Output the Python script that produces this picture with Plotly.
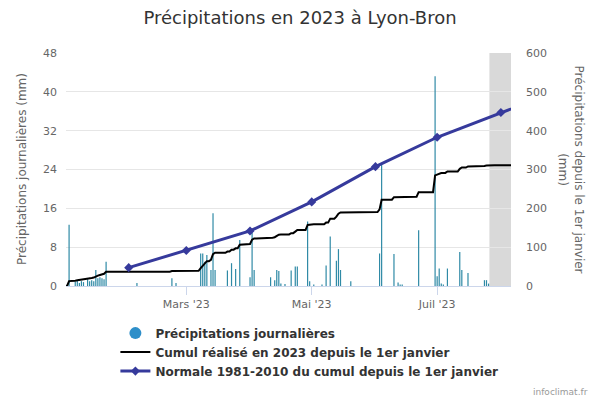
import pandas as pd
import plotly.graph_objects as go

# --- Data ---------------------------------------------------------------
rain_dates = [
    "2023-01-03", "2023-01-06", "2023-01-07", "2023-01-08", "2023-01-09", "2023-01-10",
    "2023-01-12", "2023-01-13", "2023-01-14", "2023-01-15", "2023-01-16", "2023-01-17",
    "2023-01-18", "2023-01-19", "2023-01-20", "2023-01-21",
    "2023-02-05", "2023-02-22", "2023-02-24",
    "2023-03-08", "2023-03-09", "2023-03-10", "2023-03-11", "2023-03-13", "2023-03-14",
    "2023-03-15", "2023-03-21", "2023-03-23", "2023-03-25", "2023-03-27",
    "2023-04-01", "2023-04-02", "2023-04-03", "2023-04-11", "2023-04-13", "2023-04-14",
    "2023-04-15", "2023-04-16", "2023-04-18", "2023-04-21", "2023-04-23", "2023-04-24",
    "2023-04-29", "2023-04-30",
    "2023-05-02", "2023-05-06", "2023-05-08", "2023-05-10", "2023-05-13", "2023-05-14",
    "2023-05-15", "2023-05-20",
    "2023-06-03", "2023-06-04", "2023-06-10", "2023-06-12", "2023-06-13", "2023-06-14",
    "2023-06-22", "2023-06-30",
    "2023-07-01", "2023-07-02", "2023-07-03", "2023-07-04", "2023-07-06", "2023-07-12",
    "2023-07-13", "2023-07-16", "2023-07-24", "2023-07-25", "2023-07-26",
]
rain_mm = [
    12.6, 0.9, 1.2, 0.6, 1.0, 0.8,
    1.4, 1.0, 1.2, 1.0, 3.3, 1.6,
    1.8, 1.6, 1.4, 5.0,
    0.6, 1.6, 0.6,
    6.7, 6.7, 5.0, 6.4, 3.3, 15.0,
    3.3, 3.2, 4.7, 3.5, 9.5,
    1.8, 11.0, 3.3, 1.8, 1.2, 3.3,
    3.1, 0.5, 0.4, 3.2, 4.0, 4.0,
    13.3, 1.0,
    0.3, 0.3, 4.2, 10.2, 5.2, 7.6,
    3.3, 1.0,
    6.7, 25.0, 6.6, 0.7, 0.3, 0.3,
    11.5, 43.2,
    2.0, 3.6, 0.5, 0.3, 3.6, 7.0,
    3.3, 2.7, 1.2, 1.2, 0.5,
]

normal_dates = ["2023-02-01", "2023-03-01", "2023-04-01", "2023-05-01",
                "2023-06-01", "2023-07-01", "2023-08-01", "2023-09-01"]
normal_cum = [47.2, 91.3, 141.7, 216.6, 307.4, 383.0, 446.7, 508.7]

tick_dates = ["2023-03-01", "2023-05-01", "2023-07-01"]
tick_labels = ["Mars '23", "Mai '23", "Juil '23"]

period_start = "2023-01-01"
period_end = "2023-08-06"
pending_start = "2023-07-26 10:00"
x_range = ["2023-01-01 12:00", "2023-08-05 22:00"]

# cumulative series from daily values
days = pd.date_range(period_start, period_end, freq="D")
daily = pd.Series(0.0, index=days)
for d, v in zip(rain_dates, rain_mm):
    daily[pd.Timestamp(d)] += v
cumul = daily.cumsum()

# thin daily columns drawn as vertical segments from 0 to the value
col_x, col_y = [], []
for d, v in zip(pd.to_datetime(rain_dates), rain_mm):
    col_x += [d, d, None]
    col_y += [0, v, None]

FONT = "DejaVu Sans"
BAR_COLOR = "#2f8aa6"
LEG_DOT = "#2e8fc9"
NORM_COLOR = "#363a9c"

fig = go.Figure()

fig.add_trace(go.Scatter(
    x=col_x, y=col_y, mode="lines", line=dict(color=BAR_COLOR, width=1.2),
    showlegend=False, yaxis="y", connectgaps=False,
))
fig.add_trace(go.Scatter(
    x=[None], y=[None], mode="markers", name="Précipitations journalières",
    marker=dict(symbol="circle", size=12, color=LEG_DOT), yaxis="y",
))
fig.add_trace(go.Scatter(
    x=cumul.index, y=cumul.values, mode="lines",
    name="Cumul réalisé en 2023 depuis le 1er janvier",
    line=dict(color="#000000", width=2), yaxis="y2",
))
fig.add_trace(go.Scatter(
    x=pd.to_datetime(normal_dates), y=normal_cum, mode="lines+markers",
    name="Normale 1981-2010 du cumul depuis le 1er janvier",
    line=dict(color=NORM_COLOR, width=3),
    marker=dict(symbol="diamond", size=7, color=NORM_COLOR), yaxis="y2",
))

fig.add_shape(type="rect", xref="x", yref="paper",
              x0=pending_start, x1=x_range[1], y0=0, y1=1,
              fillcolor="#d9d9d9", line=dict(width=0), layer="below")

fig.update_layout(
    width=600, height=400,
    margin=dict(l=66, r=89, t=53, b=114),
    paper_bgcolor="white", plot_bgcolor="white",
    font=dict(family=FONT, color="#666666", size=11),
    title=dict(text="Précipitations en 2023 à Lyon-Bron", x=0.5, xanchor="center",
               y=1 - 18 / 400, yanchor="middle",
               font=dict(family=FONT, size=18, color="#333333")),
    xaxis=dict(type="date", range=x_range, tickvals=tick_dates, ticktext=tick_labels,
               ticks="outside", ticklen=8, tickcolor="#ccd6eb",
               showgrid=False, showline=True, linecolor="#ccd6eb", linewidth=1,
               tickfont=dict(size=11, color="#666666"), zeroline=False),
    yaxis=dict(range=[0, 48], dtick=8, tick0=0, showgrid=True, gridcolor="#e6e6e6",
               zeroline=False, showline=False, ticks="", ticklabelstandoff=8,
               tickfont=dict(size=11, color="#666666")),
    yaxis2=dict(range=[0, 600], dtick=100, tick0=0, overlaying="y", side="right",
                showgrid=False, zeroline=False, showline=False, ticks="",
                ticklabelstandoff=14, tickfont=dict(size=11, color="#666666")),
    legend=dict(x=0.111, y=-0.14, xanchor="left", yanchor="top", orientation="v",
                font=dict(family=FONT, size=12, color="#333333", weight="bold"),
                bgcolor="rgba(0,0,0,0)", tracegroupgap=0),
    annotations=[
        dict(text="Précipitations journalières (mm)", xref="paper", yref="paper",
             x=-0.1, y=0.5, xanchor="center", yanchor="middle", textangle=-90,
             showarrow=False, font=dict(size=12, color="#666666")),
        dict(text="Précipitations depuis le 1er janvier<br>(mm)", xref="paper", yref="paper",
             x=(571 - 66) / 445, y=0.5, xanchor="center", yanchor="middle", textangle=90,
             showarrow=False, font=dict(size=12, color="#666666")),
        dict(text="infoclimat.fr", xref="paper", yref="paper",
             x=(590 - 66) / 445, y=(286 - 392) / 233, xanchor="right", yanchor="middle",
             showarrow=False, font=dict(size=9, color="#999999")),
    ],
)

fig.write_html("out.html", config={"displayModeBar": False},
               post_script="document.body.style.margin='0';")
